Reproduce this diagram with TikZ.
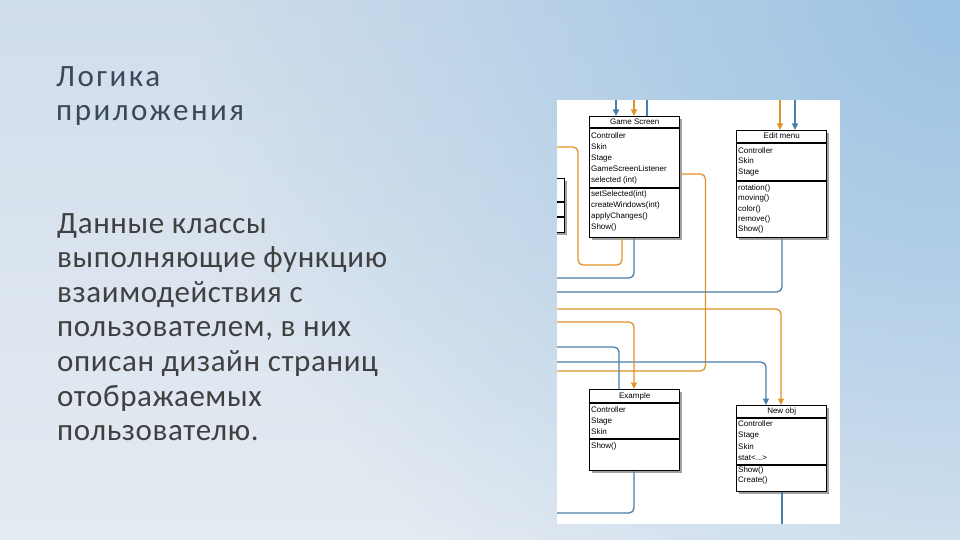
\documentclass[tikz,border=0pt]{standalone}
\usepackage{fontspec}
\setmainfont{Carlito}
\newfontfamily\headfont[LetterSpace=8]{Carlito}
\newfontfamily\bodyfont[LetterSpace=2]{Carlito}
\newfontfamily\umlfont{Liberation Sans}
\usetikzlibrary{arrows.meta,calc,shadows,fadings}
\definecolor{bgTop}{RGB}{208,221,235}
\definecolor{bgBot}{RGB}{229,235,242}
\definecolor{bgBlue}{RGB}{150,192,226}
\definecolor{titleC}{RGB}{58,72,92}
\definecolor{bodyC}{RGB}{64,64,64}
\definecolor{orangeC}{RGB}{226,148,44}
\definecolor{blueC}{RGB}{74,126,172}
\definecolor{shadowC}{RGB}{160,160,160}
\tikzfading[name=cornerfade, inner color=transparent!0, outer color=transparent!100]
\tikzset{
  umlbox/.style={draw=black, line width=1.4pt, fill=white, rectangle, inner sep=0pt, anchor=north west,
    drop shadow={shadow xshift=2.5pt, shadow yshift=-2.5pt, fill=shadowC, opacity=1}},
  sepline/.style={draw=black, line width=1.2pt},
  umltitle/.style={font=\umlfont\fontsize{8}{9.6}\selectfont, inner sep=0pt, text height=6pt, text depth=1.5pt},
  umltext/.style={font=\umlfont\fontsize{8}{9.6}\selectfont, anchor=west, inner sep=0pt, text height=6pt, text depth=1.5pt},
  bl/.style={draw=blueC, line width=1.3pt, rounded corners=5pt},
  orl/.style={draw=orangeC, line width=1.3pt, rounded corners=5pt},
  tip/.style={-{Triangle[width=6pt,length=6.5pt]}},
  headtext/.style={font=\headfont\fontsize{31}{35}\selectfont, text=titleC, anchor=base west, inner sep=0pt},
  bodytext/.style={font=\bodyfont\fontsize{31}{35}\selectfont, text=bodyC, anchor=base west, inner sep=0pt}
}
\begin{document}
\begin{tikzpicture}[x=1pt,y=-1pt]
\useasboundingbox (0,0) rectangle (960,540);
\shade[top color=bgTop, bottom color=bgBot] (0,0) rectangle (960,540);
\fill[bgBlue, path fading=cornerfade, fill opacity=0.9] (960,0) circle (760);

% left text
\node[headtext] (t1) at (56,86.5) {Логика};
\node[headtext] (t2) at (56,121) {приложения};
\foreach \t [count=\i] in {Данные классы, выполняющие функцию, взаимодействия с, {пользователем, в них}, описан дизайн страниц, отображаемых, пользователю.}
  \node[bodytext] (b\i) at (57,{233+34.6*(\i-1)}) {\t};

% panel
\node[fill=white, minimum width=283pt, minimum height=424pt, anchor=north west, inner sep=0pt] (panel) at (557,100) {};

% cut-off class at the left
\begin{scope}
\clip (panel.north west) rectangle (panel.south east);
\node[umlbox, minimum width=60pt, minimum height=54pt] (lb) at (504,178) {};
\draw[sepline] ($(lb.north west)+(0,24)$) -- ($(lb.north east)+(0,24)$);
\draw[sepline] ($(lb.north west)+(0,39)$) -- ($(lb.north east)+(0,39)$);
\end{scope}

% class boxes
\node[umlbox, minimum width=90pt, minimum height=121pt] (gs) at (589,116) {};
\node[umlbox, minimum width=90pt, minimum height=107pt] (em) at (736,130) {};
\node[umlbox, minimum width=90pt, minimum height=81pt] (ex) at (589,389) {};
\node[umlbox, minimum width=90pt, minimum height=86pt] (no) at (736,405) {};

% Game Screen
\draw[sepline] ($(gs.north west)+(0,12)$) -- ($(gs.north east)+(0,12)$);
\draw[sepline] ($(gs.north west)+(0,72)$) -- ($(gs.north east)+(0,72)$);
\node[umltitle] (gst) at ($(gs.north)+(0,6.2)$) {Game Screen};
\foreach \t [count=\i] in {Controller,Skin,Stage,GameScreenListener,selected (int)}
  \node[umltext] (gsa\i) at ($(gs.north west)+(2,{20.7+10.9*(\i-1)})$) {\t};
\foreach \t [count=\i] in {setSelected(int),createWindows(int),applyChanges(),Show()}
  \node[umltext] (gsm\i) at ($(gs.north west)+(2,{78.3+11*(\i-1)})$) {\t};

% Edit menu
\draw[sepline] ($(em.north west)+(0,13)$) -- ($(em.north east)+(0,13)$);
\draw[sepline] ($(em.north west)+(0,51)$) -- ($(em.north east)+(0,51)$);
\node[umltitle] (emt) at ($(em.north)+(0,6.5)$) {Edit menu};
\foreach \t [count=\i] in {Controller,Skin,Stage}
  \node[umltext] (ema\i) at ($(em.north west)+(2,{21.3+10.4*(\i-1)})$) {\t};
\foreach \t [count=\i] in {rotation(),moving(),color(),remove(),Show()}
  \node[umltext] (emm\i) at ($(em.north west)+(2,{58+10.4*(\i-1)})$) {\t};

% Example
\draw[sepline] ($(ex.north west)+(0,14)$) -- ($(ex.north east)+(0,14)$);
\draw[sepline] ($(ex.north west)+(0,50)$) -- ($(ex.north east)+(0,50)$);
\node[umltitle] (ext) at ($(ex.north)+(0,7)$) {Example};
\foreach \t [count=\i] in {Controller,Stage,Skin}
  \node[umltext] (exa\i) at ($(ex.north west)+(2,{21.7+10.8*(\i-1)})$) {\t};
\node[umltext] (exm1) at ($(ex.north west)+(2,57)$) {Show()};

% New obj
\draw[sepline] ($(no.north west)+(0,13)$) -- ($(no.north east)+(0,13)$);
\draw[sepline] ($(no.north west)+(0,60)$) -- ($(no.north east)+(0,60)$);
\node[umltitle] (not) at ($(no.north)+(0,6.5)$) {New obj};
\foreach \t [count=\i] in {Controller,Stage,Skin}
  \node[umltext] (noa\i) at ($(no.north west)+(2,{19.5+11.2*(\i-1)})$) {\t};
\node[umltext] (noa4) at ($(no.north west)+(2,53.1)$) {stat<...>};
\node[umltext] (nom1) at ($(no.north west)+(2,65)$) {Show()};
\node[umltext] (nom2) at ($(no.north west)+(2,75.5)$) {Create()};

% free ends of connectors
\coordinate (c1) at (616,100);
\coordinate (c2) at (634,100);
\coordinate (c3) at (647,100);
\coordinate (c4) at (780,100);
\coordinate (c5) at (795,100);
\coordinate (c6) at (557,371);
\coordinate (c7) at (557,292);
\coordinate (c8) at (557,309);
\coordinate (c9) at (557,362);
\coordinate (c10) at (557,322);
\coordinate (c11) at (557,347);
\coordinate (c12) at (557,147);
\coordinate (c13) at (557,278);
\coordinate (c14) at (557,513);
\coordinate (c15) at (782,524);

% connectors
\draw[bl,tip] (c1) -- (c1 |- gs.north);
\draw[orl,tip] (c2) -- (c2 |- gs.north);
\draw[bl] (c3) -- (c3 |- gs.north);
\draw[orl,tip] (c4) -- (c4 |- em.north);
\draw[bl,tip] (c5) -- (c5 |- em.north);
\draw[orl] ($(gs.north east)+(0,58)$) -- ++(25,0) |- (c6);
\draw[bl] ($(em.south west)+(46,0)$) |- (c7);
\draw[orl,tip] (c8) -| ($(no.north west)+(45,0)$);
\draw[bl,tip] (c9) -| ($(no.north west)+(30,0)$);
\draw[orl,tip] (c10) -| ($(ex.north west)+(45,0)$);
\draw[bl] (c11) -| ($(ex.north west)+(30,0)$);
\draw[orl] (c12) -| (578,265) -| ($(gs.south west)+(33,0)$);
\draw[bl] ($(gs.south west)+(45,0)$) |- (c13);
\draw[bl] ($(ex.south west)+(45,0)$) |- (c14);
\draw[bl] ($(no.south west)+(46,0)$) -- (c15);
\end{tikzpicture}
\end{document}
